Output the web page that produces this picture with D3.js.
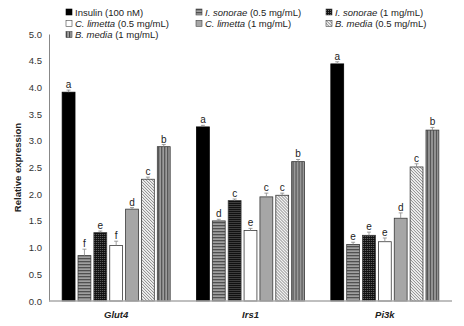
<!DOCTYPE html>
<html>
<head>
<meta charset="utf-8">
<script src="https://cdn.jsdelivr.net/npm/d3@7"></script>
<style>
  body { margin: 0; background: #fff; }
  svg text { font-family: "Liberation Sans", Arial, sans-serif; fill: #222; }
</style>
</head>
<body>
<svg id="chart" width="464" height="326"></svg>
<script>
// Данные графика
const genes = ['Glut4', 'Irs1', 'Pi3k']
const seriesNames = ['ins', 'is05', 'is1', 'cl05', 'cl1', 'bm05', 'bm1']
const legendLabels = [
    ['Insulin', ' (100 nM)', false],
    ['I. sonorae', ' (0.5 mg/mL)', true],
    ['I. sonorae', ' (1 mg/mL)', true],
    ['C. limetta', ' (0.5 mg/mL)', true],
    ['C. limetta', ' (1 mg/mL)', true],
    ['B. media', ' (0.5 mg/mL)', true],
    ['B. media', ' (1 mg/mL)', true],
]
const values = {
    Glut4: [3.91, 0.85, 1.28, 1.04, 1.72, 2.28, 2.89],
    Irs1: [3.26, 1.5, 1.88, 1.32, 1.95, 1.98, 2.61],
    Pi3k: [4.44, 1.06, 1.23, 1.11, 1.55, 2.51, 3.2],
}
const errors = {
    Glut4: [0.04, 0.12, 0.03, 0.08, 0.03, 0.04, 0.04],
    Irs1: [0.03, 0.03, 0.03, 0.04, 0.07, 0.04, 0.04],
    Pi3k: [0.04, 0.04, 0.06, 0.07, 0.1, 0.06, 0.05],
}
const letters = {
    Glut4: ['a', 'f', 'e', 'f', 'd', 'c', 'b'],
    Irs1: ['a', 'd', 'c', 'e', 'c', 'c', 'b'],
    Pi3k: ['a', 'e', 'e', 'e', 'd', 'c', 'b'],
}
const yTicks = [0, 0.5, 1, 1.5, 2, 2.5, 3, 3.5, 4, 4.5, 5]

const svg = d3.select('#chart')
const defs = svg.append('defs')

// Заливки-узоры для серий
function pat(id, w, h, draw) {
    const p = defs.append('pattern').attr('id', id)
        .attr('patternUnits', 'userSpaceOnUse').attr('width', w).attr('height', h)
    draw(p)
}
pat('hstripe', 4, 3, p => {
    p.append('rect').attr('width', 4).attr('height', 3).attr('fill', '#a0a0a0')
    p.append('rect').attr('width', 4).attr('height', 1.3).attr('fill', '#505050')
})
pat('checker', 2, 2, p => {
    p.append('rect').attr('width', 2).attr('height', 2).attr('fill', '#111')
    p.append('rect').attr('width', 1).attr('height', 1).attr('fill', '#6a6a6a')
})
pat('diag', 3, 3, p => {
    p.append('rect').attr('width', 3).attr('height', 3).attr('fill', '#f2f2f2')
    p.append('path').attr('d', 'M0,0L3,3M-1,2L1,4M2,-1L4,1')
        .attr('stroke', '#777').attr('stroke-width', 0.9)
})
pat('vstripe', 3, 4, p => {
    p.append('rect').attr('width', 3).attr('height', 4).attr('fill', '#a0a0a0')
    p.append('rect').attr('width', 1.2).attr('height', 4).attr('fill', '#4a4a4a')
})

const fills = ['#000', 'url(#hstripe)', 'url(#checker)', '#fff', '#a6a6a6', 'url(#diag)', 'url(#vstripe)']

const margin = { left: 49, right: 12, top: 34, bottom: 25 }
const width = 464, height = 326

const x0 = d3.scaleBand().domain(genes)
    .range([margin.left, width - margin.right])
    .paddingInner(0.196).paddingOuter(0.098)
const x1 = d3.scaleBand().domain(seriesNames)
    .range([0, x0.bandwidth()]).paddingInner(0.19)
const y = d3.scaleLinear().domain([0, 5]).range([height - margin.bottom, margin.top])

// Ось Y
const yAxis = svg.append('g')
    .attr('transform', `translate(${margin.left},0)`)
    .call(d3.axisLeft(y).tickValues(yTicks).tickFormat(d3.format('.1f')).tickSize(0).tickPadding(7))
yAxis.select('.domain').attr('stroke', '#888')
yAxis.selectAll('text').attr('font-size', 9.5).style('fill', '#333')

svg.append('text')
    .attr('transform', `translate(21,${(y(0) + y(5)) / 2}) rotate(-90)`)
    .attr('text-anchor', 'middle')
    .attr('font-size', 9.5).attr('font-weight', 'bold')
    .text('Relative expression')

// Группы столбцов
const group = svg.selectAll('.gene').data(genes).enter().append('g')
    .attr('class', 'gene')
    .attr('transform', g => `translate(${x0(g)},0)`)

const rows = g => seriesNames.map((s, i) => ({
    s, i, v: values[g][i], e: errors[g][i], l: letters[g][i],
}))

group.selectAll('rect.bar').data(rows).enter().append('rect')
    .attr('class', 'bar')
    .attr('x', d => x1(d.s))
    .attr('y', d => y(d.v))
    .attr('width', x1.bandwidth())
    .attr('height', d => y(0) - y(d.v))
    .attr('fill', d => fills[d.i])
    .attr('stroke', d => d.i === 0 ? '#000' : '#3a3a3a')
    .attr('stroke-width', 0.8)

// Планки погрешностей
group.selectAll('path.err').data(rows).enter().append('path')
    .attr('class', 'err')
    .attr('d', d => {
        const cx = x1(d.s) + x1.bandwidth() / 2
        return `M${cx},${y(d.v)}V${y(d.v + d.e)}M${cx - 2},${y(d.v + d.e)}H${cx + 2}`
    })
    .attr('stroke', '#888').attr('stroke-width', 0.8).attr('fill', 'none')

group.selectAll('text.sig').data(rows).enter().append('text')
    .attr('class', 'sig')
    .attr('x', d => x1(d.s) + x1.bandwidth() / 2)
    .attr('y', d => y(d.v + d.e) - 2)
    .attr('text-anchor', 'middle')
    .attr('font-size', 10)
    .text(d => d.l)

// Ось X
svg.append('line')
    .attr('x1', margin.left).attr('x2', width - margin.right)
    .attr('y1', y(0)).attr('y2', y(0))
    .attr('stroke', '#aaa').attr('stroke-width', 1.6)

svg.selectAll('text.gene-label').data(genes).enter().append('text')
    .attr('class', 'gene-label')
    .attr('x', g => x0(g) + x0.bandwidth() / 2)
    .attr('y', 318)
    .attr('text-anchor', 'middle')
    .attr('font-size', 9.5).attr('font-weight', 'bold').attr('font-style', 'italic')
    .text(g => g)

// Легенда
const legendCols = [66, 196, 326]
const legend = svg.selectAll('g.leg').data(legendLabels).enter().append('g')
    .attr('class', 'leg')
    .attr('transform', (d, i) => `translate(${legendCols[i % 3]},${12 + Math.floor(i / 3) * 11.3})`)
legend.append('rect')
    .attr('x', 0).attr('y', -3).attr('width', 6).attr('height', 6)
    .attr('fill', (d, i) => fills[i])
    .attr('stroke', (d, i) => i === 0 ? '#000' : '#444').attr('stroke-width', 0.6)
const lt = legend.append('text').attr('x', 9).attr('y', 3.5).attr('font-size', 9.5)
lt.append('tspan').attr('font-style', d => d[2] ? 'italic' : 'normal').text(d => d[0])
lt.append('tspan').text(d => d[1])
</script>
</body>
</html>
